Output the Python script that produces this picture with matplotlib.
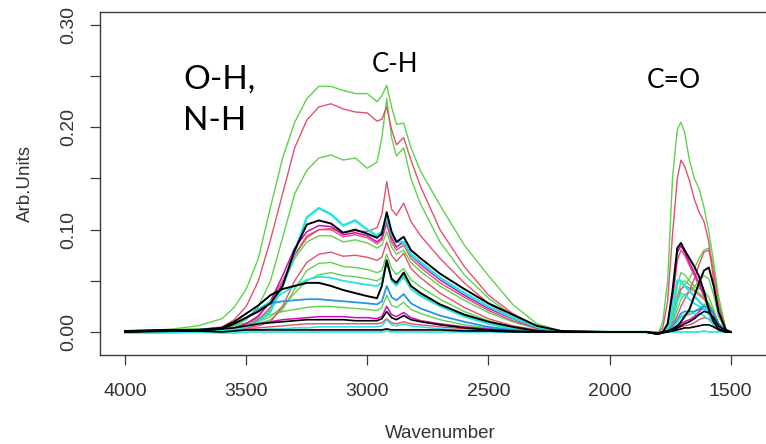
import matplotlib
matplotlib.use("Agg")
import matplotlib.pyplot as plt

# ---------------- data ----------------
wavenumber = [4000, 3800, 3700, 3600, 3550, 3500, 3450, 3400, 3350, 3300,
              3250, 3200, 3150, 3100, 3050, 3000, 2960, 2940, 2920, 2900, 2880,
              2850, 2820, 2780, 2700, 2600, 2500, 2400, 2300, 2200,
              2000, 1850, 1800, 1780, 1760, 1740, 1720, 1705, 1690, 1670, 1650,
              1630, 1610, 1590, 1570, 1550, 1520, 1500]

green_a = [0.000, 0.003, 0.006, 0.013, 0.024, 0.042, 0.072, 0.122, 0.170, 0.205,
           0.228, 0.240, 0.240, 0.236, 0.233, 0.233, 0.225, 0.231, 0.241, 0.220, 0.203,
           0.204, 0.180, 0.157, 0.124, 0.085, 0.055, 0.027, 0.008, 0.001,
           0.000, 0.000, -0.002, 0.010, 0.050, 0.150, 0.198, 0.205, 0.195, 0.168, 0.150,
           0.140, 0.122, 0.098, 0.068, 0.035, 0.003, 0.000]
green_c = [0.000, 0.001, 0.002, 0.003, 0.006, 0.012, 0.025, 0.050, 0.092, 0.135,
           0.158, 0.170, 0.173, 0.168, 0.170, 0.160, 0.166, 0.190, 0.228, 0.190, 0.172,
           0.180, 0.150, 0.125, 0.088, 0.056, 0.033, 0.016, 0.005, 0.000,
           0.000, 0.000, -0.001, 0.000, 0.004, 0.015, 0.035, 0.042, 0.046, 0.052, 0.062,
           0.072, 0.080, 0.082, 0.065, 0.030, 0.003, 0.000]
green_d = [0.000, 0.001, 0.001, 0.002, 0.003, 0.006, 0.012, 0.022, 0.045, 0.072,
           0.088, 0.094, 0.094, 0.088, 0.090, 0.087, 0.082, 0.085, 0.098, 0.083, 0.076,
           0.080, 0.068, 0.059, 0.045, 0.031, 0.019, 0.010, 0.003, 0.000,
           0.000, 0.000, 0.000, 0.000, 0.004, 0.018, 0.045, 0.058, 0.056, 0.050, 0.045,
           0.042, 0.040, 0.034, 0.022, 0.008, 0.001, 0.000]
green_e = [0.000, 0.001, 0.001, 0.002, 0.003, 0.005, 0.008, 0.012, 0.022, 0.042,
           0.060, 0.067, 0.068, 0.064, 0.063, 0.061, 0.058, 0.060, 0.076, 0.062, 0.056,
           0.062, 0.051, 0.044, 0.032, 0.020, 0.011, 0.005, 0.001, 0.000,
           0.000, 0.000, 0.000, 0.000, 0.003, 0.012, 0.035, 0.048, 0.050, 0.046, 0.042,
           0.038, 0.034, 0.028, 0.018, 0.007, 0.001, 0.000]
green_f = [0.000, 0.002, 0.003, 0.003, 0.004, 0.006, 0.010, 0.015, 0.025, 0.038,
           0.050, 0.056, 0.058, 0.055, 0.054, 0.052, 0.050, 0.053, 0.066, 0.052, 0.047,
           0.053, 0.042, 0.036, 0.026, 0.016, 0.008, 0.003, 0.001, 0.000,
           0.000, 0.000, 0.000, 0.000, 0.002, 0.008, 0.022, 0.032, 0.036, 0.040, 0.044,
           0.050, 0.055, 0.052, 0.036, 0.015, 0.002, 0.000]
green_g = [0.000, 0.002, 0.003, 0.004, 0.006, 0.009, 0.013, 0.017, 0.020, 0.022,
           0.024, 0.025, 0.025, 0.024, 0.023, 0.022, 0.021, 0.024, 0.036, 0.026, 0.024,
           0.029, 0.022, 0.018, 0.012, 0.007, 0.004, 0.001, 0.000, 0.000,
           0.000, 0.000, -0.001, 0.000, 0.001, 0.004, 0.010, 0.014, 0.016, 0.017, 0.020,
           0.023, 0.027, 0.028, 0.020, 0.009, 0.001, 0.000]

pink_b = [0.000, 0.001, 0.002, 0.005, 0.012, 0.025, 0.050, 0.090, 0.135, 0.180,
          0.207, 0.220, 0.223, 0.218, 0.215, 0.214, 0.206, 0.208, 0.220, 0.198, 0.183,
          0.190, 0.168, 0.142, 0.100, 0.064, 0.036, 0.018, 0.005, 0.001,
          0.000, 0.000, -0.001, 0.004, 0.030, 0.095, 0.150, 0.168, 0.162, 0.148, 0.130,
          0.117, 0.108, 0.088, 0.050, 0.018, 0.001, 0.000]
pink_f = [0.000, 0.001, 0.001, 0.002, 0.004, 0.008, 0.016, 0.030, 0.050, 0.075,
          0.092, 0.100, 0.101, 0.097, 0.099, 0.098, 0.102, 0.115, 0.147, 0.120, 0.114,
          0.126, 0.108, 0.094, 0.072, 0.048, 0.028, 0.014, 0.004, 0.000,
          0.000, 0.000, 0.000, 0.000, 0.003, 0.010, 0.030, 0.042, 0.045, 0.043, 0.040,
          0.036, 0.032, 0.026, 0.016, 0.007, 0.001, 0.000]
pink_k = [0.000, 0.001, 0.001, 0.002, 0.003, 0.006, 0.012, 0.024, 0.048, 0.075,
          0.094, 0.100, 0.100, 0.093, 0.095, 0.092, 0.086, 0.090, 0.106, 0.088, 0.080,
          0.085, 0.072, 0.063, 0.048, 0.034, 0.021, 0.011, 0.004, 0.000,
          0.000, 0.000, -0.001, 0.000, 0.005, 0.030, 0.070, 0.080, 0.075, 0.065, 0.055,
          0.045, 0.035, 0.022, 0.010, 0.003, 0.000, 0.000]
pink_h = [0.000, 0.001, 0.001, 0.002, 0.003, 0.004, 0.006, 0.010, 0.025, 0.050,
          0.068, 0.076, 0.078, 0.074, 0.075, 0.073, 0.070, 0.073, 0.088, 0.075, 0.069,
          0.077, 0.062, 0.053, 0.038, 0.024, 0.013, 0.006, 0.002, 0.000,
          0.000, 0.000, 0.000, 0.000, 0.002, 0.006, 0.016, 0.025, 0.032, 0.040, 0.052,
          0.066, 0.078, 0.080, 0.058, 0.026, 0.003, 0.000]
pink_q = [0.000, 0.000, 0.001, 0.001, 0.002, 0.003, 0.004, 0.005, 0.006, 0.007,
          0.008, 0.008, 0.008, 0.008, 0.008, 0.008, 0.008, 0.009, 0.013, 0.009, 0.008,
          0.010, 0.008, 0.007, 0.005, 0.003, 0.002, 0.001, 0.000, 0.000,
          0.000, 0.000, 0.000, 0.000, 0.000, 0.001, 0.003, 0.005, 0.006, 0.007, 0.009,
          0.012, 0.014, 0.013, 0.009, 0.004, 0.000, 0.000]

magenta_g = [0.000, 0.001, 0.001, 0.002, 0.004, 0.008, 0.015, 0.030, 0.055, 0.082,
             0.098, 0.104, 0.103, 0.095, 0.097, 0.094, 0.088, 0.092, 0.110, 0.092, 0.083,
             0.088, 0.075, 0.066, 0.051, 0.036, 0.023, 0.013, 0.004, 0.000,
             0.000, 0.000, -0.001, 0.000, 0.006, 0.035, 0.078, 0.084, 0.078, 0.068, 0.058,
             0.048, 0.036, 0.022, 0.010, 0.003, 0.000, 0.000]
magenta_o = [0.000, 0.001, 0.001, 0.002, 0.003, 0.005, 0.008, 0.010, 0.012, 0.013,
             0.014, 0.015, 0.015, 0.015, 0.014, 0.014, 0.013, 0.015, 0.025, 0.017, 0.015,
             0.019, 0.014, 0.011, 0.008, 0.005, 0.003, 0.001, 0.000, 0.000,
             0.000, 0.000, -0.001, 0.000, 0.001, 0.002, 0.005, 0.008, 0.010, 0.012, 0.015,
             0.020, 0.024, 0.025, 0.018, 0.008, 0.001, 0.000]

cyan_d = [0.000, 0.001, 0.001, 0.002, 0.003, 0.005, 0.010, 0.020, 0.045, 0.078,
          0.112, 0.121, 0.115, 0.104, 0.109, 0.100, 0.094, 0.098, 0.112, 0.096, 0.088,
          0.088, 0.076, 0.068, 0.053, 0.038, 0.025, 0.014, 0.005, 0.000,
          0.000, 0.000, -0.001, 0.000, 0.005, 0.025, 0.050, 0.050, 0.045, 0.040, 0.035,
          0.030, 0.025, 0.018, 0.010, 0.004, 0.000, 0.000]
cyan_k = [0.000, 0.001, 0.002, 0.004, 0.008, 0.014, 0.022, 0.030, 0.038, 0.045,
          0.051, 0.054, 0.053, 0.050, 0.048, 0.046, 0.045, 0.048, 0.070, 0.050, 0.045,
          0.055, 0.042, 0.035, 0.025, 0.015, 0.008, 0.003, 0.001, 0.000,
          0.000, 0.000, 0.000, 0.000, 0.003, 0.012, 0.030, 0.038, 0.036, 0.032, 0.028,
          0.025, 0.022, 0.017, 0.010, 0.004, 0.000, 0.000]
blue_m = [0.000, 0.001, 0.002, 0.004, 0.008, 0.014, 0.022, 0.028, 0.030, 0.031,
          0.032, 0.032, 0.031, 0.030, 0.029, 0.028, 0.027, 0.030, 0.045, 0.034, 0.031,
          0.037, 0.028, 0.023, 0.016, 0.010, 0.005, 0.002, 0.000, 0.000,
          0.000, 0.000, 0.000, 0.000, 0.001, 0.005, 0.012, 0.018, 0.020, 0.020, 0.020,
          0.022, 0.025, 0.025, 0.018, 0.008, 0.001, 0.000]
cyan_r = [0.000, 0.000, 0.000, 0.001, 0.001, 0.002, 0.002, 0.003, 0.003, 0.004,
          0.004, 0.005, 0.005, 0.005, 0.005, 0.005, 0.005, 0.006, 0.012, 0.007, 0.006,
          0.008, 0.006, 0.005, 0.003, 0.002, 0.001, 0.000, 0.000, 0.000,
          0.000, 0.000, 0.000, 0.000, 0.001, 0.004, 0.010, 0.015, 0.017, 0.018, 0.018,
          0.018, 0.016, 0.012, 0.007, 0.003, 0.000, 0.000]
cyan_s = [-0.001, -0.001, 0.000, -0.001, -0.001, 0.000, 0.000, 0.000, 0.000, 0.000,
          0.000, 0.000, 0.000, 0.000, 0.000, 0.000, 0.000, 0.000, 0.001, 0.000, 0.000,
          0.000, 0.000, 0.000, 0.000, 0.000, 0.000, 0.000, 0.000, 0.000,
          0.000, 0.000, 0.000, 0.000, 0.000, 0.000, 0.000, 0.000, 0.000, 0.000, 0.000,
          0.000, 0.001, 0.000, 0.000, 0.000, 0.000, 0.000]

black_e = [0.000, 0.001, 0.001, 0.003, 0.008, 0.014, 0.020, 0.028, 0.045, 0.080,
           0.105, 0.109, 0.106, 0.097, 0.100, 0.096, 0.092, 0.096, 0.117, 0.098, 0.088,
           0.093, 0.080, 0.072, 0.057, 0.042, 0.028, 0.017, 0.006, 0.001,
           0.000, 0.000, -0.002, 0.000, 0.008, 0.040, 0.082, 0.087, 0.080, 0.072, 0.064,
           0.054, 0.040, 0.022, 0.010, 0.003, 0.000, 0.000]
black_l = [0.001, 0.002, 0.002, 0.004, 0.010, 0.018, 0.026, 0.036, 0.042, 0.045,
           0.048, 0.048, 0.045, 0.041, 0.038, 0.035, 0.033, 0.045, 0.070, 0.052, 0.048,
           0.058, 0.045, 0.038, 0.027, 0.017, 0.010, 0.005, 0.001, 0.000,
           0.000, 0.000, -0.002, 0.000, 0.001, 0.003, 0.006, 0.010, 0.015, 0.022, 0.035,
           0.048, 0.060, 0.063, 0.045, 0.020, 0.002, 0.000]
black_p = [0.001, 0.002, 0.002, 0.003, 0.004, 0.006, 0.008, 0.009, 0.010, 0.011,
           0.012, 0.012, 0.012, 0.012, 0.011, 0.011, 0.011, 0.013, 0.020, 0.014, 0.012,
           0.016, 0.012, 0.010, 0.007, 0.004, 0.002, 0.001, 0.000, 0.000,
           0.000, 0.000, -0.002, -0.001, 0.000, 0.002, 0.004, 0.006, 0.008, 0.010, 0.013,
           0.017, 0.020, 0.019, 0.014, 0.006, 0.001, 0.000]
black_t = [0.000, 0.002, 0.001, 0.000, 0.001, 0.002, 0.002, 0.002, 0.002, 0.002,
           0.002, 0.002, 0.002, 0.002, 0.002, 0.002, 0.002, 0.002, 0.003, 0.002, 0.002,
           0.002, 0.002, 0.002, 0.002, 0.001, 0.001, 0.000, 0.000, 0.000,
           0.000, 0.000, -0.001, 0.000, 0.000, 0.001, 0.002, 0.003, 0.004, 0.004, 0.005,
           0.006, 0.007, 0.007, 0.005, 0.002, 0.000, 0.000]

x_ticks = [4000, 3500, 3000, 2500, 2000, 1500]
x_tick_labels = ["4000", "3500", "3000", "2500", "2000", "1500"]
y_ticks = [0.00, 0.05, 0.10, 0.15, 0.20, 0.25, 0.30]
y_tick_labels = ["0.00", "", "0.10", "", "0.20", "", "0.30"]

# ---------------- styling ----------------
GREEN, PINK, MAGENTA = "#61D04F", "#DF536B", "#CD0BBC"
CYAN, BLUE, BLACK = "#28E2E5", "#2297E6", "#000000"

layers = [
    (green_a, GREEN, 1.0), (green_c, GREEN, 1.0), (green_d, GREEN, 1.0),
    (green_e, GREEN, 1.0), (green_f, GREEN, 1.0), (green_g, GREEN, 1.0),
    (pink_b, PINK, 1.0), (pink_f, PINK, 1.0), (pink_k, PINK, 1.0),
    (pink_h, PINK, 1.0), (pink_q, PINK, 1.0),
    (magenta_g, MAGENTA, 1.1), (magenta_o, MAGENTA, 1.1),
    (cyan_d, CYAN, 1.8), (cyan_k, CYAN, 1.3), (blue_m, BLUE, 1.3),
    (cyan_r, CYAN, 1.1), (cyan_s, CYAN, 1.2),
    (black_e, BLACK, 1.4), (black_l, BLACK, 1.4), (black_p, BLACK, 1.2),
    (black_t, BLACK, 1.2),
]

W, H = 766, 444
fig = plt.figure(figsize=(W / 100, H / 100), dpi=100)
ax = fig.add_axes([100 / W, 89 / H, 680 / W, 342.7 / H])

for vals, col, lw in layers:
    ax.plot(wavenumber, vals, color=col, lw=lw, solid_joinstyle="round")

ax.set_xlim(4104, 1296)
ax.set_ylim(-0.0225, 0.3124)

axis_font = "Liberation Sans"
text_col = "#333333"
for s in ax.spines.values():
    s.set_color("#3a3a3a")
    s.set_linewidth(1.0)

ax.set_xticks(x_ticks)
ax.set_xticklabels(x_tick_labels, family=axis_font, fontsize=14, color=text_col)
ax.set_yticks(y_ticks)
ax.set_yticklabels(y_tick_labels, family=axis_font, fontsize=14, color=text_col,
                   rotation=90, va="center")
ax.tick_params(axis="both", length=7.2, width=0.9, color="#3a3a3a")
ax.tick_params(axis="x", pad=13)
ax.tick_params(axis="y", pad=9)

ax.set_xlabel("Wavenumber", family=axis_font, fontsize=13.5, color=text_col)
ax.xaxis.label.set_va("center")
ax.xaxis.set_label_coords(0.5, (355 - 433) / 342.7)
ax.set_ylabel("Arb.Units", family=axis_font, fontsize=13.5, color=text_col)
ax.yaxis.label.set_va("center")
ax.yaxis.label.set_ha("center")
ax.yaxis.set_label_coords((25 - 100) / 680, 0.5)

ann_font = "Lato"
fig.text(183 / W, 1 - 89 / H, "O-H,", family=ann_font, fontsize=24, va="baseline")
fig.text(183 / W, 1 - 130 / H, "N-H", family=ann_font, fontsize=24, va="baseline")
fig.text(372 / W, 1 - 72 / H, "C-H", family=ann_font, fontsize=18.5, va="baseline")
fig.text(647 / W, 1 - 88 / H, "C=O", family=ann_font, fontsize=19, va="baseline")

fig.savefig("out.png", dpi=100)
